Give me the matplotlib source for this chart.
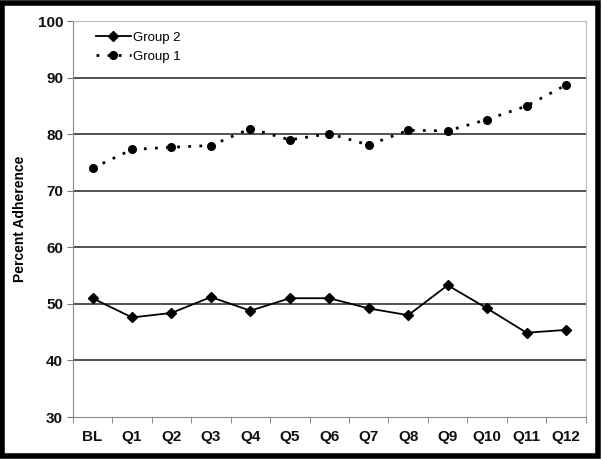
import matplotlib.pyplot as plt
from matplotlib.patches import Rectangle
import numpy as np

plt.rcParams['font.family'] = ['Liberation Sans', 'DejaVu Sans']

# Données
labels = ['BL', 'Q1', 'Q2', 'Q3', 'Q4', 'Q5', 'Q6', 'Q7', 'Q8', 'Q9', 'Q10', 'Q11', 'Q12']
group1 = [74.0, 77.3, 77.7, 78.0, 81.0, 79.0, 80.1, 78.1, 80.7, 80.6, 82.6, 85.0, 88.7]
group2 = [51.0, 47.6, 48.4, 51.2, 48.8, 51.0, 51.0, 49.2, 48.0, 53.3, 49.2, 44.9, 45.4]

x = np.arange(len(labels))

fig = plt.figure(figsize=(6.02, 4.59), dpi=100)
ax = fig.add_axes([0.121, 0.0915, 0.852, 0.8625])

# grille horizontale
for yv in [40, 50, 60, 70, 80, 90]:
    ax.axhline(yv, color='#444444', lw=1.3, zorder=1)

ax.plot(x, group2, color='black', lw=1.3, marker='D', markersize=5, label='Group 2', zorder=3)
ax.plot(x, group1, color='black', lw=2, linestyle=(0, (1, 3)), marker='o', markersize=5.5,
        label='Group 1', zorder=3)

ax.set_xlim(-0.5, len(labels) - 0.5)
ax.set_ylim(30, 100)
ax.set_yticks(range(30, 101, 10))
ax.set_xticks(x)
ax.set_xticklabels(labels)
ax.set_xticks(np.arange(-0.5, len(labels), 1), minor=True)
ax.tick_params(axis='x', which='major', length=0, pad=9)
ax.tick_params(axis='x', which='minor', length=4, color='#777777', direction='out')
ax.tick_params(axis='y', length=4, color='#777777', direction='out', pad=3)
for lab in ax.get_xticklabels() + ax.get_yticklabels():
    lab.set_fontweight('bold')
    lab.set_fontsize(11)
    lab.set_color('#111111')

ax.set_ylabel('Percent Adherence', fontweight='bold', fontsize=10, labelpad=8)

for side in ['left', 'bottom']:
    ax.spines[side].set_color('#888888')
for side in ['top', 'right']:
    ax.spines[side].set_color('#bbbbbb')

ax.legend(loc='upper left', frameon=False, fontsize=9.5, handlelength=2.6,
          bbox_to_anchor=(0.025, 1.0), borderaxespad=0.4, handletextpad=0.2)

# cadre noir autour de la figure
fig.patches.append(Rectangle((0.004, 0.006), 0.99, 0.988, transform=fig.transFigure,
                             fill=False, edgecolor='black', lw=4))

plt.savefig('out.png', dpi=100)
